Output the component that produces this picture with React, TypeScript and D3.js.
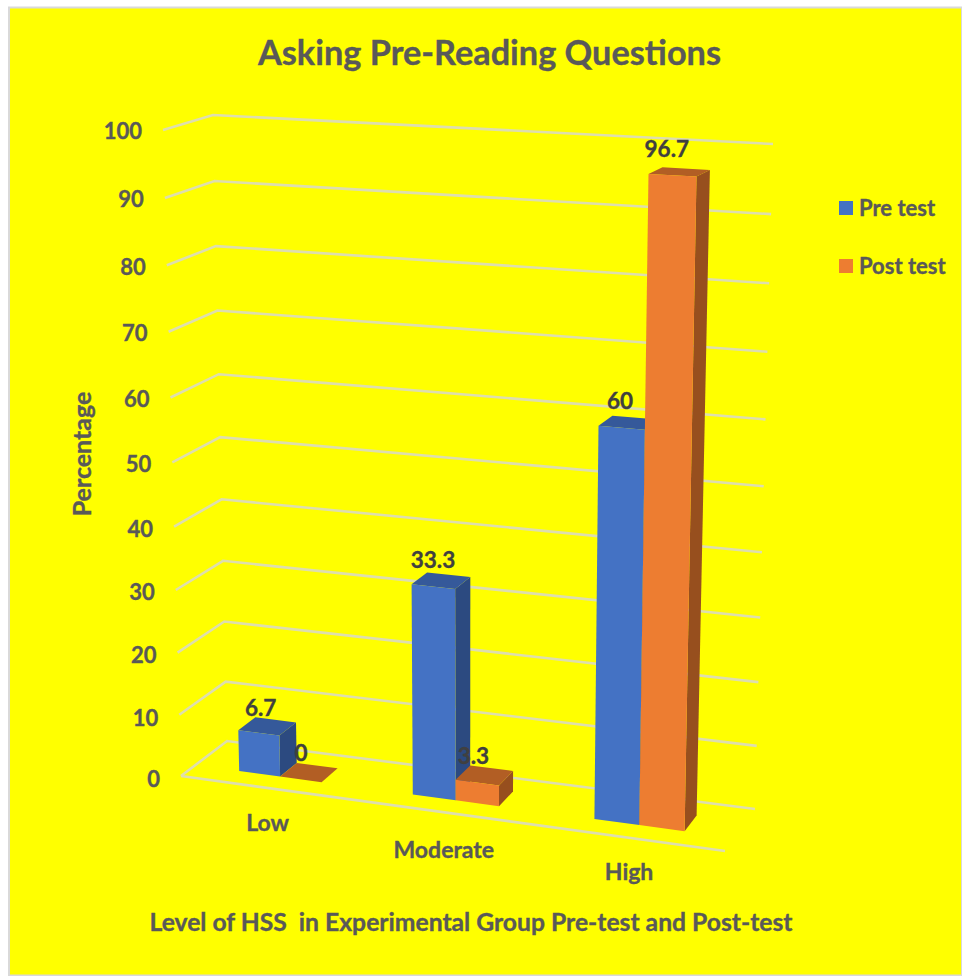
import React from "react";
import * as d3 from "d3";

const categories = ["Low", "Moderate", "High"];
const seriesNames = ["Pre test", "Post test"];
const preTest = [6.7, 33.3, 60];
const postTest = [0, 3.3, 96.7];
const yTicks = [0, 10, 20, 30, 40, 50, 60, 70, 80, 90, 100];

const FONT = "Lato, 'Open Sans', sans-serif";
const TEXT = "#595959";
const LABEL = "#404040";
const GRID = "#DEDEAE";
const palette = [
  { front: "#4472C4", top: "#35599A", side: "#2C4A80" },
  { front: "#ED7D31", top: "#B25E24", side: "#974F1E" },
];

// corners of the 3D box: [x, y] for front/back, left/right, floor/ceiling
const FL0: [number, number] = [181, 776];
const FR0: [number, number] = [725, 851];
const BL0: [number, number] = [227, 741];
const BR0: [number, number] = [755, 809];
const FL1: [number, number] = [163, 130];
const FR1: [number, number] = [739, 161];
const BL1: [number, number] = [213, 115];
const BR1: [number, number] = [773, 144];

const warp = (s: number, r: number) => s / (s + (1 - s) * r);
const lerp = d3.interpolateNumber;

const yScale = d3.scaleLinear().domain([0, 100]).range([0, 1]);

function project(u: number, d: number, value: number): [number, number] {
  const s = warp(u, 1.07);
  const t = warp(yScale(value), 1.06);
  const axis = (i: 0 | 1) => {
    const f0 = lerp(FL0[i], FR0[i])(s);
    const b0 = lerp(BL0[i], BR0[i])(s);
    const f1 = lerp(FL1[i], FR1[i])(s);
    const b1 = lerp(BL1[i], BR1[i])(s);
    return lerp(lerp(f0, b0)(d), lerp(f1, b1)(d))(t);
  };
  return [axis(0), axis(1)];
}

const catScale = d3.scaleBand<string>().domain(categories).range([0, 1]).paddingInner(0).paddingOuter(0);
const BAR_W = 0.08;
const D1 = 0.31;
const D2 = 0.69;

const pts = (list: [number, number][]) => list.map((p) => p.map((n) => n.toFixed(1)).join(",")).join(" ");

const labelDx = [[-6.5, -8, -8.5], [-8, -11, -12.5]];
const labelDy = [[-19, -21, -22], [-20, -20, -23]];
const catDy = [34, 37, 33];
const catDx = [1, 0, 0];

const heavy = (color: string) => ({ fill: color, stroke: color, strokeWidth: 0.35 });

export default function App() {
  const seriesValues = [preTest, postTest];
  const bars = categories.flatMap((c, ci) =>
    seriesNames.map((_, si) => {
      const center = catScale(c)! + catScale.bandwidth() / 2;
      const u0 = center - BAR_W + si * BAR_W;
      const u1 = u0 + BAR_W;
      return { ci, si, u0, u1, value: seriesValues[si][ci] };
    })
  );
  return (
    <svg width={962} height={976} style={{ position: "absolute", left: 0, top: 0 }} fontFamily={FONT} fontWeight={700}>
      <rect x={0} y={0} width={962} height={976} fill="#fff" />
      <rect x={9} y={7.5} width={953} height={968} fill="#FFFF00" stroke="#D9D9D9" strokeWidth={2} />
      <text x={489.5} y={51.5} textAnchor="middle" dominantBaseline="central" fontSize={34.3} {...heavy(TEXT)}>Asking Pre-Reading Questions</text>

      {yTicks.map((v) => (
        <polyline key={v} points={pts([project(0, 0, v), project(0, 1, v), project(1, 1, v)])} fill="none" stroke={GRID} strokeWidth={2.6} />
      ))}
      <line x1={FL0[0]} y1={FL0[1]} x2={FR0[0]} y2={FR0[1]} stroke={GRID} strokeWidth={2.6} />

      {yTicks.map((v) => {
        const [x, y] = project(0, 0, v);
        return (
          <text key={v} x={x - 21} y={y + 2.5 - (2 * v) / 100} textAnchor="end" dominantBaseline="central" fontSize={22} {...heavy(TEXT)}>{v}</text>
        );
      })}

      {bars.map((b) => {
        const c = palette[b.si];
        return (
          <g key={`${b.ci}-${b.si}`}>
            <polygon points={pts([project(b.u1, D1, 0), project(b.u1, D2, 0), project(b.u1, D2, b.value), project(b.u1, D1, b.value)])} fill={c.side} />
            <polygon points={pts([project(b.u0, D1, b.value), project(b.u1, D1, b.value), project(b.u1, D2, b.value), project(b.u0, D2, b.value)])} fill={c.top} />
            <polygon points={pts([project(b.u0, D1, 0), project(b.u1, D1, 0), project(b.u1, D1, b.value), project(b.u0, D1, b.value)])} fill={c.front} />
          </g>
        );
      })}

      {bars.map((b) => {
        const [x, y] = project((b.u0 + b.u1) / 2, 0.5, b.value);
        return (
          <text key={`l${b.ci}-${b.si}`} x={x + labelDx[b.si][b.ci]} y={y + labelDy[b.si][b.ci]} textAnchor="middle" dominantBaseline="central" fontSize={22.5} {...heavy(LABEL)}>{b.value}</text>
        );
      })}

      {categories.map((c, i) => {
        const center = catScale(c)! + catScale.bandwidth() / 2;
        const [x, y] = project(center, 0, 0);
        return (
          <text key={c} x={x + catDx[i]} y={y + catDy[i]} textAnchor="middle" dominantBaseline="central" fontSize={23} {...heavy(TEXT)}>{c}</text>
        );
      })}

      <text transform="translate(80.5,454) rotate(-90)" textAnchor="middle" dominantBaseline="central" fontSize={25} {...heavy(TEXT)}>Percentage</text>
      <text x={471} y={921} textAnchor="middle" dominantBaseline="central" fontSize={24.7} {...heavy(TEXT)} xmlSpace="preserve">Level of HSS  in Experimental Group Pre-test and Post-test</text>

      {seriesNames.map((n, i) => (
        <g key={n}>
          <rect x={839} y={201 + i * 58} width={14} height={14} fill={palette[i].front} />
          <text x={859} y={207 + i * 58} dominantBaseline="central" fontSize={22} {...heavy(TEXT)}>{n}</text>
        </g>
      ))}
    </svg>
  );
}
